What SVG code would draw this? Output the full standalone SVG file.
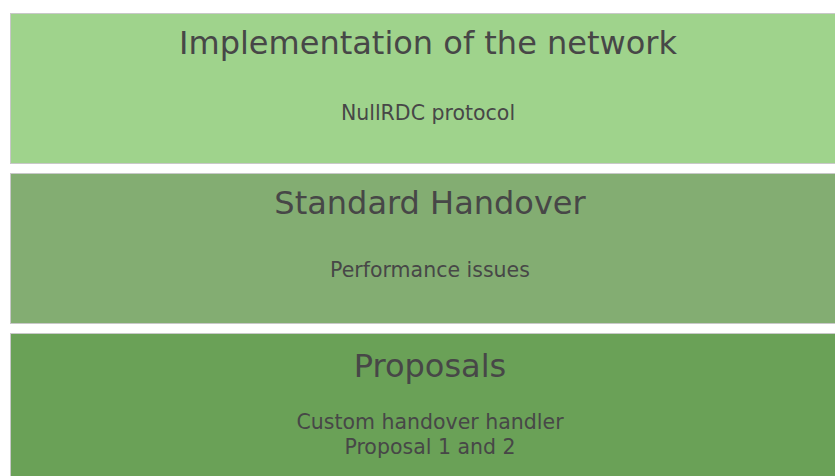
<svg xmlns="http://www.w3.org/2000/svg" width="835" height="476" viewBox="0 0 835 476">
<style>
.band{stroke:#c8c8c8;stroke-width:1}
.t{font-family:"DejaVu Sans",Verdana,sans-serif;fill:#474747;text-anchor:middle}
.h{font-size:32px}
.s{font-size:20.5px}
</style>
<rect width="835" height="476" fill="#ffffff"/>
<g id="band1">
<rect class="band" x="10.5" y="13.5" width="840" height="150" fill="#9fd38c"/>
<text class="t h" x="428" y="54">Implementation of the network</text>
<text class="t s" x="428" y="120">NullRDC protocol</text>
</g>
<g id="band2">
<rect class="band" x="10.5" y="173.5" width="840" height="150" fill="#83ad72"/>
<text class="t h" x="430" y="214">Standard Handover</text>
<text class="t s" x="430" y="277">Performance issues</text>
</g>
<g id="band3">
<rect class="band" x="10.5" y="333.5" width="840" height="150" fill="#6aa157"/>
<text class="t h" x="430" y="377">Proposals</text>
<text class="t s" x="430" y="429">Custom handover handler</text>
<text class="t s" x="430" y="454">Proposal 1 and 2</text>
</g>
<g id="connectors"></g>
</svg>
